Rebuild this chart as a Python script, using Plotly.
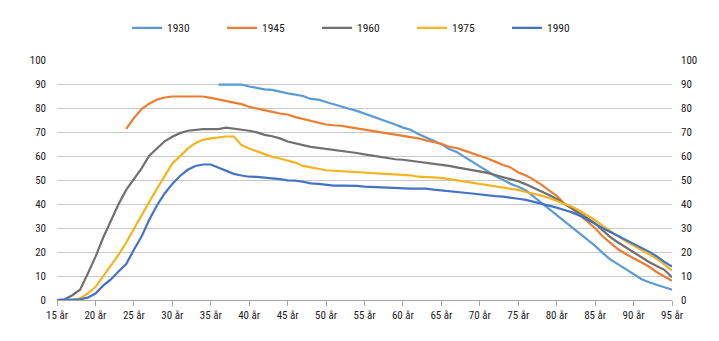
import plotly.graph_objects as go

ages = list(range(15, 96))

s1930 = [None]*21 + [90, 90, 90, 90, 89.2, 88.6, 88, 87.8, 87, 86.3, 85.8, 85.2, 84, 83.7, 82.7,
         81.7, 80.6, 79.9, 79, 77.9, 76.9, 75.7, 74.6, 73.3, 72, 71.1, 69.3, 68, 66.7, 65.1,
         63.1, 61.8, 59.8, 57.8, 55.8, 53.8, 51.8, 50.2, 48.5, 47.3, 45.8, 43.2, 40.6, 38, 35.5,
         32.8, 30.5, 27.9, 25.3, 22.6, 19.6, 16.9, 14.9, 12.9, 10.9, 8.8, 7.4, 6.2, 5.3, 4.3]

s1945 = [None]*9 + [71.5, 76, 79.8, 82, 83.7, 84.6, 85, 85, 85, 85, 85, 84.4, 83.8, 83.2, 82.6,
         81.8, 80.7, 79.9, 79.4, 78.6, 77.9, 77.5, 76.4, 75.7, 74.8, 74, 73.3, 73, 72.8, 72.2,
         71.7, 71.2, 70.7, 70.1, 69.6, 69, 68.6, 68.1, 67.5, 66.7, 66, 65.3, 64, 63.5, 62.4,
         61.4, 60.3, 59.1, 57.8, 56.4, 55.4, 53.3, 52, 50.3, 48.2, 45.8, 43.5, 40.3, 38.2, 35.5,
         32.8, 30, 26.5, 24, 21.2, 19.2, 17.5, 15.7, 14, 11.7, 10, 8]

s1960 = [0, 0.3, 2, 4.3, 11, 18, 26, 33, 40, 46, 50.5, 55, 60.3, 63.5, 66.3, 68.2, 69.7, 70.7,
         71.2, 71.4, 71.4, 71.4, 72, 71.6, 71.2, 70.7, 70, 69, 68.4, 67.5, 66.2, 65.3, 64.7, 64,
         63.6, 63.3, 62.8, 62.5, 62, 61.4, 60.8, 60.3, 59.8, 59.2, 58.8, 58.6, 58.2, 57.7, 57.5,
         57.1, 56.5, 56, 55.4, 54.9, 54.2, 53.7, 53.1, 52.2, 51.4, 50.5, 49.6, 48.3, 46.9, 45.6,
         43.9, 42.2, 40.2, 38.5, 36.2, 34.2, 32, 29, 26.2, 24, 21.9, 19.8, 17.9, 15.9, 14.2, 12.6, 9.5]

s1975 = [0, 0, 0, 0.7, 2.7, 5.4, 10, 14.6, 18.8, 24, 29.8, 35.5, 41, 46.5, 51.8, 57, 60, 63.2,
         65.5, 66.9, 67.5, 68, 68.3, 68.3, 64.7, 63.3, 62.2, 61.1, 59.8, 59.1, 58.3, 57.4, 56, 55.4,
         54.7, 54.2, 54, 53.8, 53.8, 53.5, 53.4, 53.1, 52.9, 52.7, 52.5, 52.2, 52.1, 51.5, 51.4,
         51.1, 51, 50.5, 50, 49.5, 49.1, 48.6, 48.1, 47.7, 47.1, 46.8, 46, 45.1, 44.4, 43.6, 42.6,
         41.3, 40, 39, 37.3, 35.4, 33.3, 31, 28.8, 26.6, 24.5, 22.8, 21, 19.2, 17.3, 14.9, 12.3]

s1990 = [0, 0, 0, 0.3, 1, 2.7, 6, 8.6, 11.9, 15, 21, 26.5, 33.5, 39.5, 44.5, 48.5, 51.8, 54.4,
         56, 56.6, 56.6, 55.4, 54, 52.7, 52, 51.5, 51.4, 51.1, 51, 50.5, 50, 49.9, 49.4, 48.7,
         48.5, 48.1, 47.8, 47.8, 47.8, 47.7, 47.4, 47.2, 47.1, 47, 46.7, 46.6, 46.5, 46.5, 46.5,
         46.1, 45.7, 45.4, 45.2, 44.8, 44.5, 44.1, 43.6, 43.4, 43.2, 42.6, 42.3, 41.8, 41, 40.1,
         39.6, 38.6, 37.6, 36.6, 35.2, 33.6, 31.8, 30, 28.4, 26.8, 25.2, 23.6, 21.9, 20.2, 18.3, 15.9, 14]

series_names = ["1930", "1945", "1960", "1975", "1990"]
series_vals = [s1930, s1945, s1960, s1975, s1990]
colors = ["#5B9BD5", "#ED7D31", "#707070", "#F2B51F", "#4472C4"]

x_ticks = list(range(15, 96, 5))
x_tick_text = [f"{a} år" for a in x_ticks]
y_ticks = list(range(0, 101, 10))

FONT = "Liberation Sans Narrow, Roboto Condensed, Open Sans, sans-serif"

fig = go.Figure()
for name, vals, col in zip(series_names, series_vals, colors):
    fig.add_trace(go.Scatter(x=ages, y=vals, name=name, mode="lines",
                             line=dict(color=col, width=2.2), connectgaps=False))

# invisible trace to anchor the right axis
fig.add_trace(go.Scatter(x=[15, 95], y=[0, 100], yaxis="y2", mode="lines",
                         line=dict(color="rgba(0,0,0,0)"), showlegend=False, hoverinfo="skip"))

fig.update_layout(
    width=719, height=341,
    margin=dict(l=57, r=47, t=49, b=41),
    paper_bgcolor="white", plot_bgcolor="white",
    font=dict(family=FONT, size=11, color="#222222"),
    showlegend=True,
    legend=dict(orientation="h", x=0.5, xanchor="center", xref="paper",
                y=0.918, yanchor="middle", yref="container",
                font=dict(size=11.5), entrywidth=50, tracegroupgap=0),
    xaxis=dict(range=[15, 95], tickvals=x_ticks, ticktext=x_tick_text,
               showgrid=False, zeroline=False, showline=True, linecolor="#A6A6A6", linewidth=1,
               ticks="outside", ticklen=5, tickcolor="#A6A6A6", tickfont=dict(size=11)),
    yaxis=dict(range=[0, 100], tickvals=y_ticks, showgrid=True, gridcolor="#C8C8C8", gridwidth=1,
               zeroline=False, showline=False, ticks="", ticklabelstandoff=10,
               tickfont=dict(size=11)),
    yaxis2=dict(range=[0, 100], tickvals=y_ticks, overlaying="y", side="right",
                showgrid=False, zeroline=False, showline=False, ticks="",
                ticklabelstandoff=8, tickfont=dict(size=11)),
)

fig.write_html("out.html")
